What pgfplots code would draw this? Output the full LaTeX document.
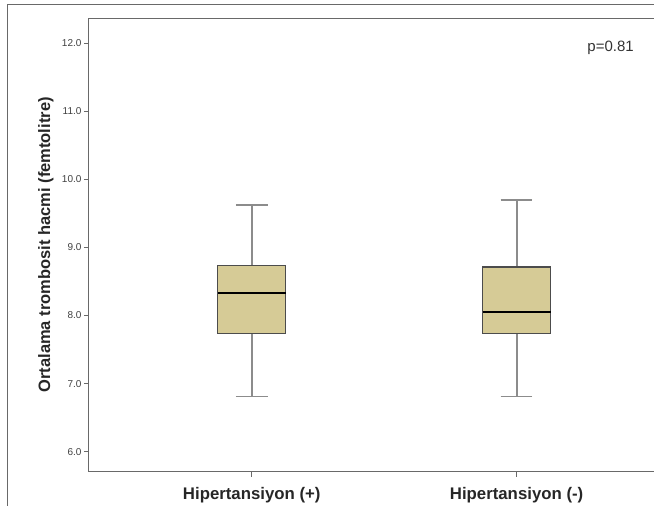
\documentclass[border=0pt]{standalone}
\usepackage{fontspec}
\setmainfont{Liberation Sans}
\usepackage{pgfplots}
\pgfplotsset{compat=1.18}
\usepgfplotslibrary{statistics}
\definecolor{boxtan}{RGB}{214,203,150}
\definecolor{axgray}{RGB}{105,105,105}
\begin{document}
\begin{tikzpicture}
\path (0pt,0pt) rectangle (654pt,-506pt);
\draw[axgray, line width=1pt] (8pt,-506pt) -- (8pt,-5pt) -- (654pt,-5pt);
\begin{axis}[
  at={(89pt,-472pt)}, anchor=south west,
  scale only axis, width=565pt, height=454pt,
  xmin=0.385, xmax=2.517, ymin=5.707, ymax=12.367,
  axis line style={draw=none},
  xtick={1,2}, xticklabels={Hipertansiyon (+), Hipertansiyon (-)},
  ytick={6,7,8,9,10,11,12},
  tick align=outside, tick pos=left,
  major tick length=5pt,
  tick style={axgray, line width=0.8pt},
  /pgf/number format/assume math mode=true,
  yticklabel style={font=\fontsize{10}{12}\selectfont, text=black!75,
    /pgf/number format/fixed, /pgf/number format/fixed zerofill,
    /pgf/number format/precision=1, xshift=1pt},
  xticklabel style={font=\fontsize{16.8}{18}\selectfont\bfseries, text=black!85, yshift=-7pt},
  ylabel={Ortalama trombosit hacmi (femtolitre)},
  ylabel style={at={(axis description cs:-0.0761,0.5)}, anchor=center,
    font=\fontsize{16.5}{18}\selectfont\bfseries, text=black!85},
  boxplot/draw direction=y,
  boxplot/box extend=0.257,
  boxplot/whisker extend=0.12,
  clip=false,
]
\draw[axgray, line width=0.9pt] (rel axis cs:1,0) -- (rel axis cs:0,0) -- (rel axis cs:0,1) -- (rel axis cs:1,1);
\addplot+[boxplot prepared={median=8.33, upper quartile=8.73, lower quartile=7.73,
  upper whisker=9.62, lower whisker=6.81, draw position=1},
  solid, fill=boxtan, draw=black!45, line width=1.8pt, mark=none,
  boxplot/every box/.style={draw=black!70, line width=1.2pt},
  boxplot/every median/.style={draw=black, line width=2.2pt}]
  coordinates {};
\addplot+[boxplot prepared={median=8.05, upper quartile=8.71, lower quartile=7.73,
  upper whisker=9.70, lower whisker=6.81, draw position=2},
  solid, fill=boxtan, draw=black!45, line width=1.8pt, mark=none,
  boxplot/every box/.style={draw=black!70, line width=1.2pt},
  boxplot/every median/.style={draw=black, line width=2.2pt}]
  coordinates {};
\node[font=\fontsize{15}{17}\selectfont, text=black!80] at (axis cs:2.355,11.93) {p=0.81};
\end{axis}
\end{tikzpicture}
\end{document}
